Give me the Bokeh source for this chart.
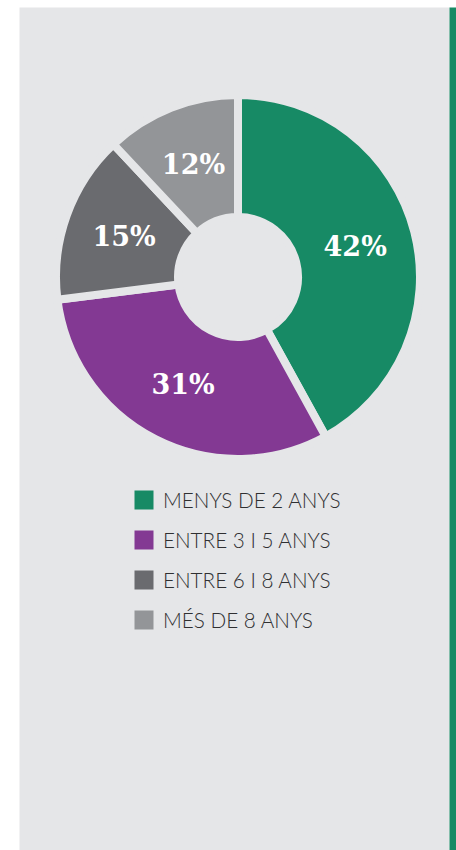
import math
from bokeh.plotting import figure
from bokeh.models import Range1d, ColumnDataSource
from bokeh.core.properties import value
from bokeh.embed import file_html
from bokeh.resources import INLINE

# ---- data ----
categories = ["MENYS DE 2 ANYS", "ENTRE 3 I 5 ANYS", "ENTRE 6 I 8 ANYS", "MÉS DE 8 ANYS"]
shares = [42, 31, 15, 12]
colors = ["#178a65", "#833993", "#6a6b6f", "#939598"]

BG = "#e5e6e8"
W, H = 456, 850

p = figure(width=W, height=H, output_backend="svg", toolbar_location=None,
           x_range=Range1d(0, W), y_range=Range1d(0, H), min_border=0)
p.axis.visible = False
p.grid.visible = False
p.outline_line_color = None
p.background_fill_color = "white"
p.border_fill_color = "white"

# panel and accent bar
p.quad(left=[19], right=[449], bottom=[0], top=[843], fill_color=BG, line_color=None)
p.quad(left=[449], right=[456], bottom=[0], top=[843], fill_color="#178a65", line_color=None)

# ---- donut ----
cx, cy = 237.5, 573.5
r_in, r_out = 60, 182
total = sum(shares)
cum = [0]
for s in shares:
    cum.append(cum[-1] + s / total)
starts = [math.pi / 2 - 2 * math.pi * cum[i + 1] for i in range(len(shares))]
ends = [math.pi / 2 - 2 * math.pi * cum[i] for i in range(len(shares))]
mids = [math.pi / 2 - 2 * math.pi * (cum[i] + cum[i + 1]) / 2 for i in range(len(shares))]
r_lab = (r_in + r_out) / 2
src = ColumnDataSource(dict(
    start=starts, end=ends, color=colors,
    lx=[cx + r_lab * math.cos(a) for a in mids],
    ly=[cy + r_lab * math.sin(a) for a in mids],
    label=[f"{s}%" for s in shares],
))
p.annular_wedge(x=cx, y=cy, inner_radius=r_in, outer_radius=r_out,
                start_angle="start", end_angle="end", direction="anticlock",
                fill_color="color", line_color=BG, line_width=8, source=src)
p.text(x="lx", y="ly", text="label", source=src, text_color="white",
       text_font=value("DejaVu Serif"), text_font_style="bold",
       text_font_size="27px", text_align="center", text_baseline="middle")

# ---- legend ----
leg_y0, leg_dy = 350.5, 40
leg = ColumnDataSource(dict(
    y=[leg_y0 - i * leg_dy for i in range(len(categories))],
    color=colors, name=categories,
))
p.rect(x=143.5, y="y", width=19, height=19, fill_color="color", line_color=None, source=leg)
p.text(x=162.5, y="y", text="name", source=leg, text_color="#2f2f31",
       text_font=value("'Lato Light', Lato"), text_font_size="20.7px",
       text_align="left", text_baseline="middle")

open("out.html", "w").write(file_html(p, INLINE))
